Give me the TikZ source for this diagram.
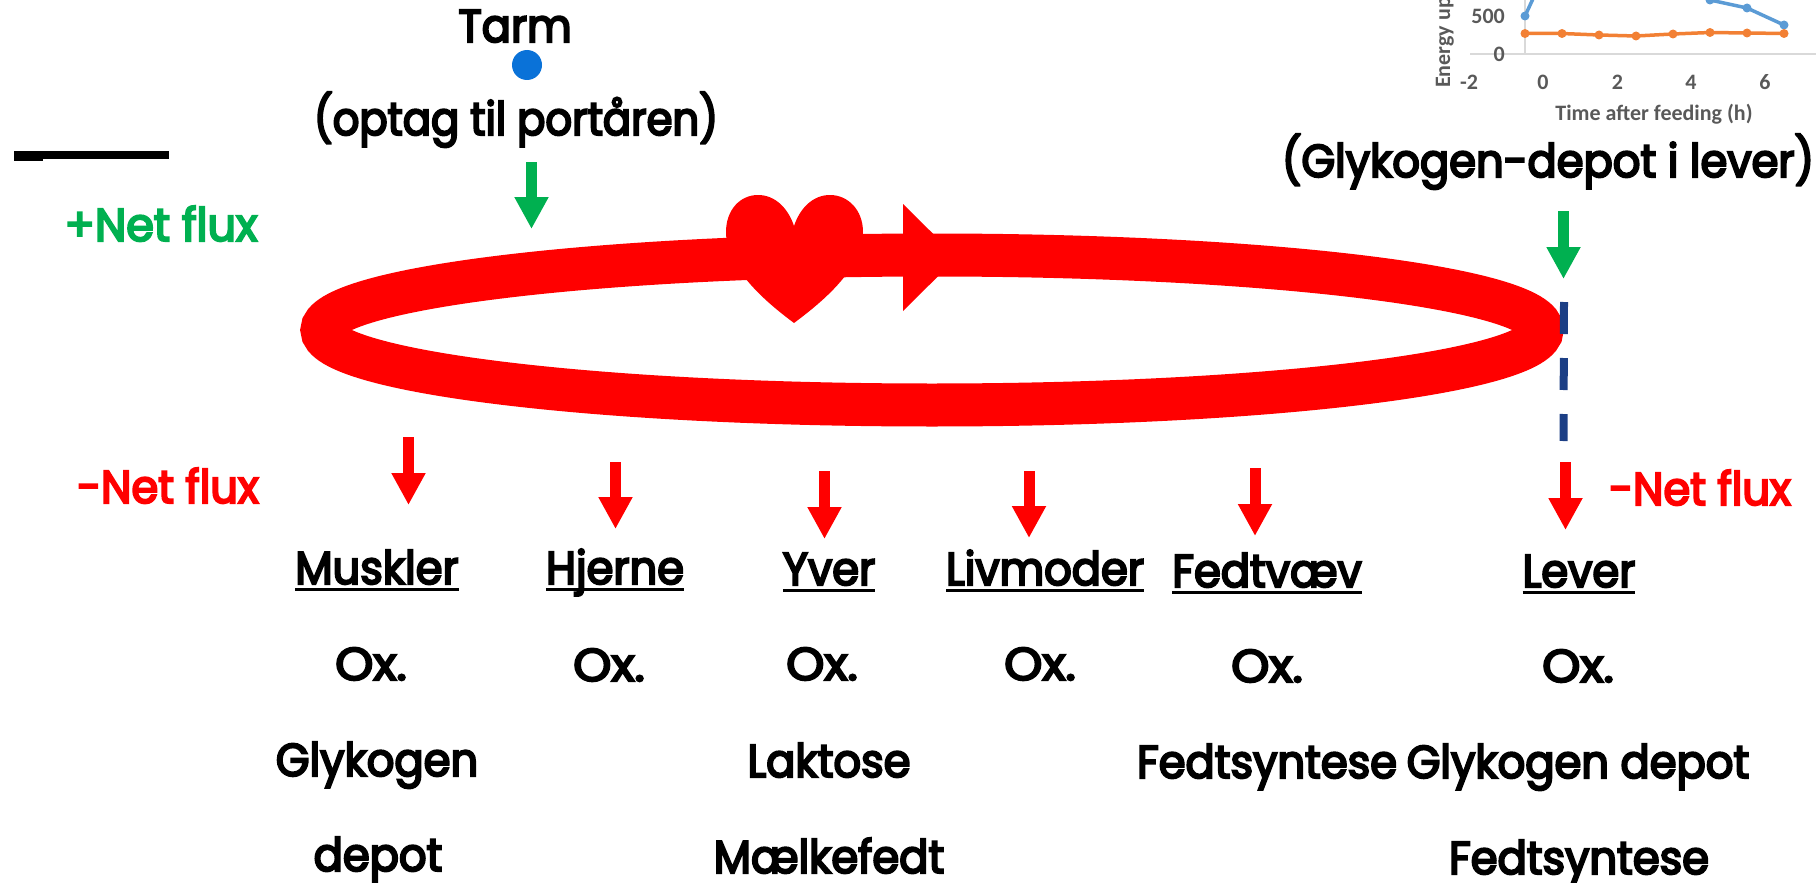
\documentclass[tikz,border=0pt]{standalone}
\usepackage{fontspec}
\setmainfont[FakeStretch=0.94, RawFeature={embolden=4.5}]{Poppins}
\newfontfamily\chartfont[BoldFont=Carlito Bold]{Carlito}
\usepackage{tikz}
\usetikzlibrary{arrows.meta}
\definecolor{fluxgreen}{HTML}{00B050}
\definecolor{fluxred}{HTML}{FF0000}
\definecolor{dotblue}{HTML}{0A72D8}
\definecolor{dashblue}{HTML}{1C3F85}
\definecolor{chartgrey}{HTML}{595959}
\definecolor{chartaxis}{HTML}{D9D9D9}
\definecolor{seriesblue}{HTML}{5B9BD5}
\definecolor{seriesorange}{HTML}{F28034}
\newcommand{\organhead}[1]{{\setbox0\hbox{#1}\rlap{\rule[-7pt]{\wd0}{3pt}}\box0}}
\newcommand{\oxlabel}{\scalebox{1.12}[1]{Ox.}}
\tikzset{
  label/.style={anchor=base, inner sep=0pt, font=\fontsize{46}{50}\selectfont},
  fluxarrow/.style={line width=11pt, -{Triangle[length=32pt,width=32pt]}},
  charttext/.style={inner sep=0pt, text=chartgrey, font=\chartfont\bfseries\fontsize{22}{24}\selectfont},
  seriesdot/.style={circle, fill, inner sep=0pt, minimum size=9pt}
}

\begin{document}
\begin{tikzpicture}[x=1pt, y=-1pt]
  \useasboundingbox (0,0) rectangle (1816,883);
  \clip (0,0) rectangle (1816,883);

  % Chart piece, top right
  \draw[chartaxis, line width=1.5pt] (1470,54) -- (1816,54);
  \draw[chartaxis, line width=1.5pt] (1525,0) -- (1525,54);
  \draw[seriesblue, line width=3.5pt] (1525,16) -- (1537,-10);
  \draw[seriesblue, line width=3.5pt] (1710,0) -- (1747,8) -- (1784,25);
  \foreach \px/\py in {1525/16, 1710/0, 1747/8, 1784/25}
    \node[seriesdot, seriesblue] at (\px,\py) {};
  \draw[seriesorange, line width=3.5pt] (1525,33.5) -- (1562,33.5) -- (1599,35) -- (1636,36)
    -- (1673,34) -- (1710,32.5) -- (1747,33) -- (1784,33.5);
  \foreach \px/\py in {1525/33.5, 1562/33.5, 1599/35, 1636/36, 1673/34, 1710/32.5, 1747/33, 1784/33.5}
    \node[seriesdot, seriesorange] at (\px,\py) {};
  \node[charttext, anchor=east] (tick500) at (1505,16) {500};
  \node[charttext, anchor=east] (tick0) at (1505,54) {0};
  \node[charttext, anchor=base] (timem2) at (1469,89) {-2};
  \node[charttext, anchor=base] (time0) at (1543,89) {0};
  \node[charttext, anchor=base] (time2) at (1617.5,89) {2};
  \node[charttext, anchor=base] (time4) at (1691,89) {4};
  \node[charttext, anchor=base] (time6) at (1765,89) {6};
  \node[charttext, anchor=base] (timelabel) at (1654,120) {Time after feeding (h)};
  \node[charttext, anchor=base west, rotate=90] (energylabel) at (1450,88) {Energy up};

  % Small black bar, left
  \fill (14,151) rectangle (169,159);
  \fill (14,159) rectangle (43,161);

  % Circulation: ring, heart and arrow head
  \draw[fluxred, line width=43pt] (932,330) ellipse (610pt and 75pt);
  \fill[fluxred] (794,323) .. controls (770,305) and (726,270) .. (726,232)
    .. controls (726,210) and (740,195) .. (758,195)
    .. controls (775,195) and (788,208) .. (794,226)
    .. controls (800,208) and (813,195) .. (830,195)
    .. controls (848,195) and (863,210) .. (863,232)
    .. controls (863,270) and (818,305) .. (794,323) -- cycle;
  \fill[fluxred] (903,204) -- (957,257.5) -- (903,311) -- cycle;

  % Dashed line at the liver
  \coordinate (dashtop) at (1564,302);
  \coordinate (dashend) at (1563.5,441);
  \draw[dashblue, line width=8pt, dash pattern=on 32pt off 24pt] (dashtop) -- (dashend);

  % Gut and liver depot
  \node[label] (tarm) at (515,42) {Tarm};
  \node[circle, fill=dotblue, inner sep=0pt, minimum size=30pt] (tarmdot) at (527,65) {};
  \node[label] (optag) at (516,135) {\scalebox{0.965}[1]{(optag til portåren)}};
  \node[label] (depot) at (1548,177) {(Glykogen-depot i lever)};

  % Net flux labels
  \node[label, text=fluxgreen] (plusflux) at (161,241) {\scalebox{1.03}[1]{+Net flux}};
  \node[label, text=fluxred] (minusflux) at (168,503) {-Net flux};
  \node[label, text=fluxred] (leverflux) at (1700,505) {-Net flux};

  % Green arrows in
  \coordinate (tarmin) at (531.5,162);
  \coordinate (tarmout) at (531.5,229);
  \coordinate (depotin) at (1563.5,211);
  \coordinate (depotout) at (1563.5,279);
  \draw[fluxarrow, fluxgreen] (tarmin) -- (tarmout);
  \draw[fluxarrow, fluxgreen] (depotin) -- (depotout);

  % Red arrows out
  \coordinate (musklerin) at (408.5,437);
  \coordinate (musklerout) at (408.5,505);
  \coordinate (hjernein) at (615.5,462);
  \coordinate (hjerneout) at (615.5,529);
  \coordinate (yverin) at (824.5,471);
  \coordinate (yverout) at (824.5,539);
  \coordinate (livmoderin) at (1029,471);
  \coordinate (livmoderout) at (1029,538);
  \coordinate (fedtin) at (1255,468);
  \coordinate (fedtout) at (1255,536);
  \coordinate (leverin) at (1565.5,462);
  \coordinate (leverout) at (1565.5,530);
  \draw[fluxarrow, fluxred] (musklerin) -- (musklerout);
  \draw[fluxarrow, fluxred] (hjernein) -- (hjerneout);
  \draw[fluxarrow, fluxred] (yverin) -- (yverout);
  \draw[fluxarrow, fluxred] (livmoderin) -- (livmoderout);
  \draw[fluxarrow, fluxred] (fedtin) -- (fedtout);
  \draw[fluxarrow, fluxred] (leverin) -- (leverout);

  % Organ columns
  \node[label] (muskler) at (377,584) {\organhead{Muskler}};
  \node[label] (muskler ox) at (371,680) {\oxlabel};
  \node[label] (muskler glyk) at (377,776) {Glykogen};
  \node[label] (muskler dep) at (378,871) {depot};

  \node[label] (hjerne) at (615,584) {\organhead{Hjerne}};
  \node[label] (hjerne ox) at (609,681) {\oxlabel};

  \node[label] (yver) at (829,585) {\organhead{Yver}};
  \node[label] (yver ox) at (822,680) {\oxlabel};
  \node[label] (yver lak) at (829,777) {Laktose};
  \node[label] (yver fedt) at (829,873) {Mælkefedt};

  \node[label] (livmoder) at (1045,585) {\organhead{Livmoder}};
  \node[label] (livmoder ox) at (1040,680) {\oxlabel};

  \node[label] (fedtvaev) at (1267,587) {\organhead{Fedtvæv}};
  \node[label] (fedtvaev ox) at (1267,682) {\oxlabel};
  \node[label] (fedtvaev syn) at (1267,778) {Fedtsyntese};

  \node[label] (lever) at (1579,587) {\organhead{Lever}};
  \node[label] (lever ox) at (1578,682) {\oxlabel};
  \node[label] (lever glyk) at (1578,778) {Glykogen depot};
  \node[label] (lever syn) at (1579,874) {Fedtsyntese};
\end{tikzpicture}
\end{document}
